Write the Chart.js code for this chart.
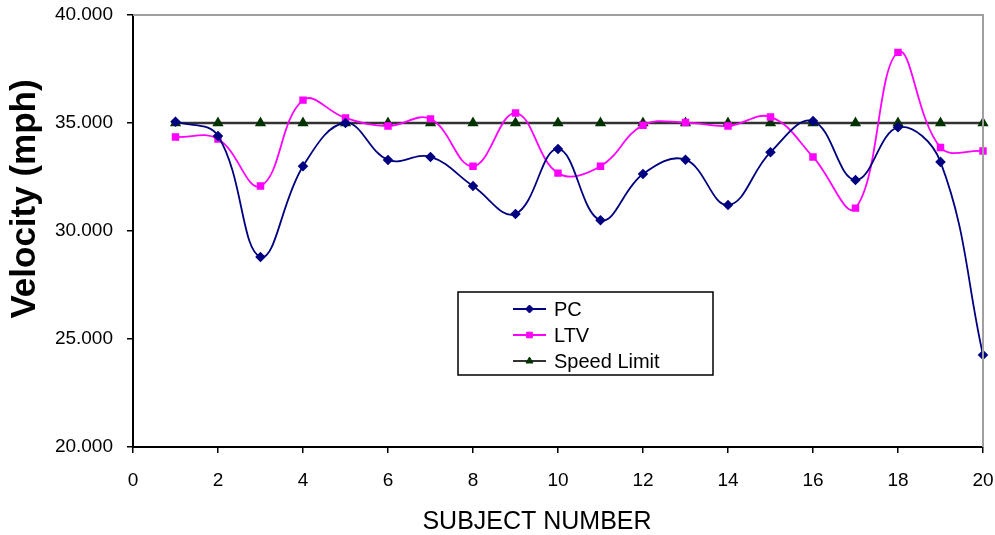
<!DOCTYPE html>
<html>
<head>
<meta charset="utf-8">
<script src="https://cdn.jsdelivr.net/npm/chart.js@4.4.1/dist/chart.umd.min.js"></script>
<style>
html,body{margin:0;padding:0;background:#fff;}
#wrap{position:relative;width:995px;height:535px;}
</style>
</head>
<body>
<div id="wrap"><canvas id="c" width="995" height="535"></canvas></div>
<script>
const subjects = [1,2,3,4,5,6,7,8,9,10,11,12,13,14,15,16,17,18,19,20];
const pcValues = [35.06,34.4,28.8,33.0,35.0,33.29,33.43,32.08,30.79,33.8,30.5,32.64,33.3,31.2,33.65,35.09,32.36,34.8,33.2,24.26];
const ltvValues = [34.35,34.26,32.08,36.06,35.23,34.86,35.19,33.0,35.46,32.68,33.0,34.9,35.02,34.86,35.28,33.43,31.06,38.27,33.87,33.7];
const speedLimit = [35,35,35,35,35,35,35,35,35,35,35,35,35,35,35,35,35,35,35,35];
const seriesNames = ['PC','LTV','Speed Limit'];
const xTitle = 'SUBJECT NUMBER';
const yTitle = 'Velocity (mph)';

const toXY = (vals) => subjects.map((s,i)=>({x:s,y:vals[i]}));
const FONT = "'Liberation Sans', Arial, sans-serif";

const frameAndLegend = {
  id:'frameAndLegend',
  afterDraw(chart){
    const ctx = chart.ctx, a = chart.chartArea;
    ctx.save();
    ctx.strokeStyle = '#a0a0a0';
    ctx.lineWidth = 2;
    ctx.beginPath();
    ctx.moveTo(a.left, a.top);
    ctx.lineTo(a.right, a.top);
    ctx.lineTo(a.right, a.bottom);
    ctx.stroke();
    ctx.fillStyle = '#000';
    ctx.textAlign = 'center';
    ctx.textBaseline = 'middle';
    ctx.font = '25px ' + FONT;
    ctx.fillText(xTitle, 537, 522);
    ctx.save();
    ctx.translate(25, 199);
    ctx.rotate(-Math.PI/2);
    ctx.font = 'bold 35px ' + FONT;
    ctx.fillText(yTitle, 0, 0);
    ctx.restore();
    const L = 458, T = 292, W = 255, H = 83;
    ctx.fillStyle = '#fff';
    ctx.fillRect(L,T,W,H);
    ctx.strokeStyle = '#000';
    ctx.lineWidth = 1.5;
    ctx.strokeRect(L,T,W,H);
    ctx.font = '20px ' + FONT;
    ctx.textAlign = 'left';
    ctx.textBaseline = 'middle';
    chart.data.datasets.forEach((ds,i)=>{
      const y = T + 17 + i*26;
      ctx.strokeStyle = ds.borderColor;
      ctx.lineWidth = 2;
      ctx.beginPath();
      ctx.moveTo(513,y); ctx.lineTo(546,y); ctx.stroke();
      ctx.fillStyle = ds.pointBackgroundColor;
      ctx.strokeStyle = ds.pointBorderColor;
      ctx.lineWidth = 1;
      Chart.helpers.drawPoint(ctx,{pointStyle:ds.pointStyle,radius:ds.pointRadius,borderWidth:1,rotation:0},529.5,y);
      ctx.fillStyle = '#000';
      ctx.fillText(ds.label, 554, y+1);
    });
    ctx.restore();
  }
};

new Chart(document.getElementById('c'),{
  type:'line',
  data:{
    datasets:[
      {label:seriesNames[0],data:toXY(pcValues),borderColor:'#000080',backgroundColor:'#000080',
       pointBackgroundColor:'#000080',pointBorderColor:'#000080',pointStyle:'rectRot',pointRadius:4,
       borderWidth:1.8,tension:0.4,fill:false,clip:false},
      {label:seriesNames[1],data:toXY(ltvValues),borderColor:'#ff00ff',backgroundColor:'#ff00ff',
       pointBackgroundColor:'#ff00ff',pointBorderColor:'#ff00ff',pointStyle:'rect',pointRadius:4,
       borderWidth:1.8,tension:0.4,fill:false,clip:false},
      {label:seriesNames[2],data:toXY(speedLimit),borderColor:'#333333',backgroundColor:'#003300',
       pointBackgroundColor:'#003300',pointBorderColor:'#003300',pointStyle:'triangle',pointRadius:4,
       borderWidth:2.5,tension:0,fill:false,clip:false}
    ]
  },
  options:{
    responsive:false,
    animation:false,
    devicePixelRatio:1,
    layout:{padding:{left:0,right:12,top:15,bottom:0}},
    plugins:{legend:{display:false},tooltip:{enabled:false}},
    scales:{
      x:{
        type:'linear',min:0,max:20,
        ticks:{stepSize:2,color:'#000',font:{family:FONT,size:19},padding:16,maxRotation:0},
        grid:{display:true,drawOnChartArea:false,drawTicks:true,tickLength:6,color:'#000',lineWidth:1.5},
        border:{display:true,color:'#000',width:2},
        title:{display:false},
        afterFit(s){s.height = 88; s.paddingLeft = 0; s.paddingRight = 0;}
      },
      y:{
        min:20,max:40,
        ticks:{stepSize:5,color:'#000',font:{family:FONT,size:19},padding:14,
          callback:(v)=>Number(v).toFixed(3)},
        grid:{display:true,drawOnChartArea:false,drawTicks:true,tickLength:6,color:'#000',lineWidth:1.5},
        border:{display:true,color:'#000',width:2},
        title:{display:false},
        afterFit(s){s.width = 133; s.paddingTop = 0; s.paddingBottom = 0;}
      }
    }
  },
  plugins:[frameAndLegend]
});
</script>
</body>
</html>
